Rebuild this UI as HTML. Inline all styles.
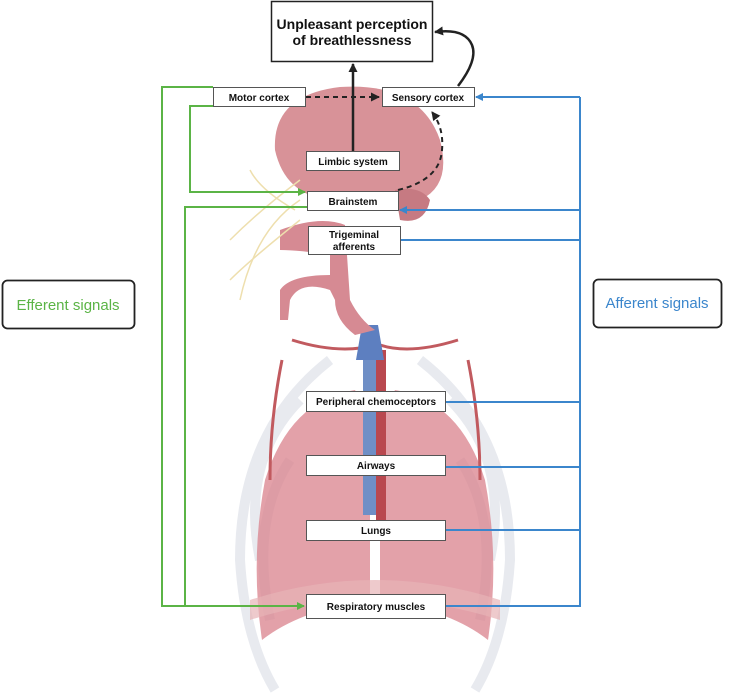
<!DOCTYPE html>
<html><head><meta charset="utf-8"><style>
html,body{margin:0;padding:0;background:#fff;}
svg{display:block;}
text{font-family:"Liberation Sans",sans-serif;font-weight:bold;fill:#111;}
</style></head><body>
<svg width="729" height="697" viewBox="0 0 729 697" xmlns="http://www.w3.org/2000/svg">
<defs>
<marker id="ag" markerWidth="8" markerHeight="8" refX="7" refY="4" orient="auto" markerUnits="userSpaceOnUse"><path d="M0,0 L8,4 L0,8 z" fill="#5bb446"/></marker>
<marker id="ab" markerWidth="8" markerHeight="8" refX="7" refY="4" orient="auto" markerUnits="userSpaceOnUse"><path d="M0,0 L8,4 L0,8 z" fill="#3b86cc"/></marker>
<marker id="ak" markerWidth="9" markerHeight="9" refX="8" refY="4.5" orient="auto" markerUnits="userSpaceOnUse"><path d="M0,0 L9,4.5 L0,9 z" fill="#222"/></marker>
</defs>
<!-- ribcage -->
<g fill="none" stroke="#e6e8ee" stroke-width="10" opacity="0.9">
<path d="M330,360 Q240,430 240,560 Q245,640 275,690"/>
<path d="M420,360 Q510,430 510,560 Q505,640 475,690"/>
<path d="M300,400 Q240,460 260,560"/><path d="M450,400 Q510,460 490,560"/>
<path d="M290,460 Q250,520 270,620"/><path d="M460,460 Q500,520 480,620"/>
</g>
<!-- lungs -->
<path d="M355,390 Q290,400 265,480 Q250,560 262,640 Q300,610 370,600 L370,420 Z" fill="#d9828c" opacity="0.75"/>
<path d="M395,390 Q460,400 485,480 Q500,560 488,640 Q450,610 380,600 L380,420 Z" fill="#d9828c" opacity="0.75"/>
<path d="M250,600 Q375,560 500,600 L500,620 Q375,580 250,620Z" fill="#e7b3b6" opacity="0.7"/>
<rect x="363" y="355" width="16" height="160" fill="#6f8fc6"/>
<rect x="376" y="350" width="10" height="190" fill="#b9484f"/>
<path d="M292,340 Q340,355 375,345 M458,340 Q410,355 380,345" stroke="#c15a5f" stroke-width="3" fill="none"/>
<path d="M282,360 Q270,420 270,480 M468,360 Q480,420 480,480" stroke="#c15a5f" stroke-width="3" fill="none"/>
<path d="M362,325 L378,325 L384,360 L356,360 Z" fill="#5d7fc0"/>
<!-- brain -->
<path d="M275,150 Q272,95 340,87 Q420,82 440,140 Q452,185 420,200 L330,200 Q285,195 275,150Z" fill="#d89298"/>
<path d="M395,190 Q420,185 430,200 Q425,225 400,220 Z" fill="#c67a82"/>
<!-- head tube / pharynx -->
<path d="M280,230 Q320,215 345,225 L350,300 Q360,320 375,330 L355,335 Q335,320 335,300 L330,290 Q300,280 290,300 L288,320 L280,320 L280,290 Q290,275 330,275 L330,255 Q300,250 280,250Z" fill="#d68a93"/>
<g stroke="#eedfae" stroke-width="1.5" fill="none">
<path d="M300,180 Q260,210 230,240"/><path d="M300,200 Q255,230 240,300"/><path d="M300,220 Q250,260 230,280"/><path d="M295,210 Q260,190 250,170"/>
</g>
<!-- green connectors -->
<g fill="none" stroke="#5bb446" stroke-width="2">
<path d="M213,87 L162,87 L162,606 L304,606" marker-end="url(#ag)"/>
<path d="M213,106 L190,106 L190,192 L305,192" marker-end="url(#ag)"/>
<path d="M307,207 L185,207 L185,606"/>
</g>
<!-- blue connectors -->
<g fill="none" stroke="#3b86cc" stroke-width="2">
<path d="M580,97 L476,97" marker-end="url(#ab)"/>
<path d="M580,97 L580,606 L445,606"/>
<path d="M580,210 L400,210" marker-end="url(#ab)"/>
<path d="M580,240 L401,240"/>
<path d="M580,402 L446,402"/>
<path d="M580,467 L446,467"/>
<path d="M580,530 L446,530"/>
</g>
<!-- black connectors -->
<path d="M353,151 L353,64" stroke="#222" stroke-width="2.5" fill="none" marker-end="url(#ak)"/>
<path d="M306,97 L379,97" stroke="#222" stroke-width="2" stroke-dasharray="5,4" fill="none" marker-end="url(#ak)"/>
<path d="M398,190 Q440,180 442,150 Q444,128 432,112" stroke="#222" stroke-width="2" stroke-dasharray="5,4" fill="none" marker-end="url(#ak)"/>
<path d="M458,86 Q478,60 472,45 Q465,28 435,32" stroke="#222" stroke-width="2.5" fill="none" marker-end="url(#ak)"/>
<!-- boxes -->
<g fill="#fff" stroke="#555" stroke-width="1">
<rect x="271.5" y="1.5" width="161" height="60" stroke="#222" stroke-width="1.5"/>
<rect x="213.5" y="87.5" width="92" height="19"/>
<rect x="382.5" y="87.5" width="92" height="19"/>
<rect x="306.5" y="151.5" width="93" height="19"/>
<rect x="307.5" y="191.5" width="91" height="19"/>
<rect x="308.5" y="226.5" width="92" height="28"/>
<rect x="306.5" y="391.5" width="139" height="20"/>
<rect x="306.5" y="455.5" width="139" height="20"/>
<rect x="306.5" y="520.5" width="139" height="20"/>
<rect x="306.5" y="594.5" width="139" height="24"/>
<rect x="2.5" y="280.5" width="132" height="48" rx="5" stroke="#222" stroke-width="1.8"/>
<rect x="593.5" y="279.5" width="128" height="48" rx="5" stroke="#222" stroke-width="1.8"/>
</g>
<text x="352" y="29" font-size="14" text-anchor="middle">Unpleasant perception</text>
<text x="352" y="45" font-size="14" text-anchor="middle">of breathlessness</text>
<g font-size="10" text-anchor="middle">
<text x="259" y="101" font-size="10">Motor cortex</text>
<text x="428" y="101" font-size="10">Sensory cortex</text>
<text x="353" y="165" font-size="10">Limbic system</text>
<text x="353" y="205" font-size="10">Brainstem</text>
<text x="354" y="238" font-size="10">Trigeminal</text>
<text x="354" y="250" font-size="10">afferents</text>
<text x="376" y="405" font-size="10">Peripheral chemoceptors</text>
<text x="376" y="469" font-size="10">Airways</text>
<text x="376" y="534" font-size="10">Lungs</text>
<text x="376" y="610" font-size="10">Respiratory muscles</text>
</g>
<text x="68" y="310" font-size="15" text-anchor="middle" style="fill:#5bb446;font-weight:normal">Efferent signals</text>
<text x="657" y="308" font-size="15" text-anchor="middle" style="fill:#3b86cc;font-weight:normal">Afferent signals</text>
</svg>
</body></html>
